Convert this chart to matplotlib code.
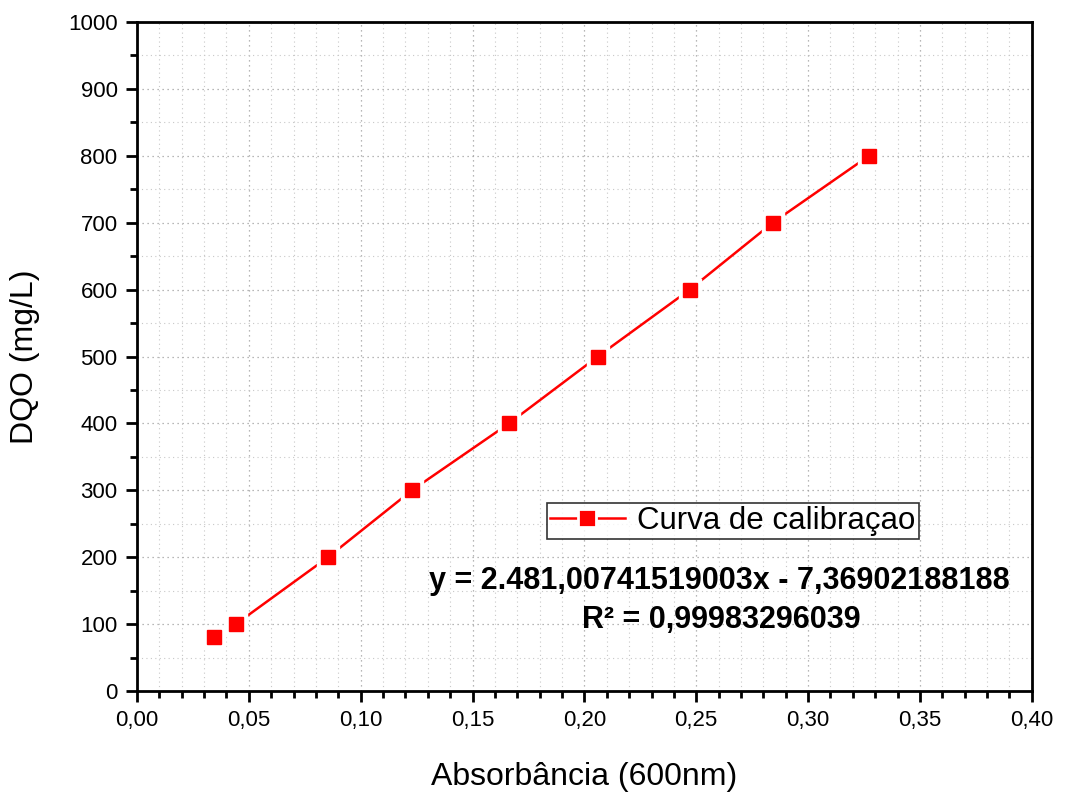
import matplotlib.pyplot as plt
from matplotlib.ticker import MultipleLocator, FuncFormatter
from matplotlib.lines import Line2D

plt.rcParams['font.family'] = ['Liberation Sans', 'DejaVu Sans']

# Calibration data
absorbancia = [0.0344, 0.0442, 0.0854, 0.1229, 0.1663, 0.2060, 0.2471, 0.2842, 0.3272]
dqo = [80, 100, 200, 300, 400, 500, 600, 700, 800]

eq_text = "y = 2.481,00741519003x - 7,36902188188"
r2_text = "R² = 0,99983296039"

fig = plt.figure(figsize=(10.67, 7.92), dpi=100)
ax = fig.add_axes([0.1284, 0.1275, 0.8386, 0.8447])

# line, then white halo markers (Origin-style gap), then red markers
ax.plot(absorbancia, dqo, color='red', lw=1.8, zorder=2)
ax.plot(absorbancia, dqo, ls='none', marker='s', markersize=16,
        markerfacecolor='white', markeredgecolor='white', zorder=2.5)
ax.plot(absorbancia, dqo, ls='none', marker='s', markersize=10,
        markerfacecolor='red', markeredgecolor='red', zorder=3)

ax.set_xlim(0, 0.40)
ax.set_ylim(0, 1000)
ax.xaxis.set_major_locator(MultipleLocator(0.05))
ax.xaxis.set_minor_locator(MultipleLocator(0.01))
ax.yaxis.set_major_locator(MultipleLocator(100))
ax.yaxis.set_minor_locator(MultipleLocator(50))
ax.xaxis.set_major_formatter(FuncFormatter(lambda v, p: f"{v:.2f}".replace('.', ',')))

ax.grid(which='major', color='#a0a0a0', ls=(0, (1, 3)), lw=0.9)
ax.grid(which='minor', color='#c8c8c8', ls=(0, (1, 3)), lw=0.8)
ax.set_axisbelow(True)

for s in ax.spines.values():
    s.set_linewidth(2)
ax.tick_params(which='major', direction='out', length=8, width=2, labelsize=16, pad=6)
ax.tick_params(which='minor', direction='out', length=5, width=2)

ax.set_xlabel('Absorbância (600nm)', fontsize=23, labelpad=22)
ax.set_ylabel('DQO (mg/L)', fontsize=23, labelpad=20)

handle = Line2D([], [], color='red', lw=1.8, marker='s', markersize=13,
                markerfacecolor='red', markeredgecolor='white', markeredgewidth=2)
leg = ax.legend([handle], ['Curva de calibraçao'], loc='upper left',
                bbox_to_anchor=(0.458, 0.281), fontsize=22.5,
                frameon=True, fancybox=False, edgecolor='black', borderpad=0.1,
                handlelength=2.4, handletextpad=0.4, borderaxespad=0)
leg.get_frame().set_linewidth(1.2)

ax.text(0.651, 0.165, eq_text, transform=ax.transAxes, ha='center', va='center',
        fontsize=22, fontweight='bold')
ax.text(0.653, 0.106, r2_text, transform=ax.transAxes, ha='center', va='center',
        fontsize=22, fontweight='bold')

fig.savefig('out.png', dpi=100)
